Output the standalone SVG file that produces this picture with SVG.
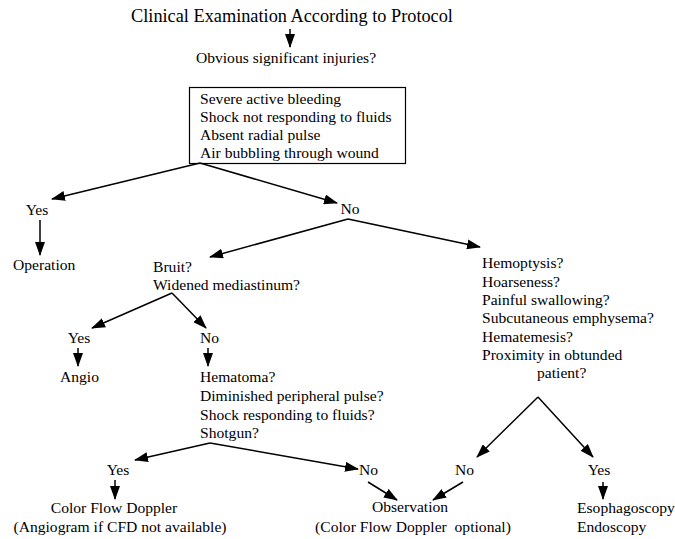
<svg xmlns="http://www.w3.org/2000/svg" width="675" height="539" viewBox="0 0 675 539">
<style>
text{font-family:"Liberation Serif","Times New Roman",serif;font-size:15.6px;fill:#000}
.title{font-size:18.3px}
.c{text-anchor:middle}
.ln{stroke:#000;stroke-width:1.5;fill:none;marker-end:url(#ah)}
.box{fill:#fff;stroke:#000;stroke-width:1.2}
</style>
<defs>
<marker id="ah" markerUnits="userSpaceOnUse" markerWidth="14" markerHeight="10" refX="13" refY="5" orient="auto">
<path d="M0,0 L14,5 L0,10 Z" fill="#000"/>
</marker>
</defs>
<rect width="675" height="539" fill="#fff"/>
<g id="title"><text class="title c" x="292" y="22">Clinical Examination According to Protocol</text></g>
<g id="obvious"><text class="c" x="286" y="63">Obvious significant injuries?</text></g>
<g id="criteria">
<rect class="box" x="189.5" y="87.5" width="216" height="76"/>
<text x="200" y="104">Severe active bleeding</text>
<text x="200" y="122">Shock not responding to fluids</text>
<text x="200" y="140">Absent radial pulse</text>
<text x="200" y="158">Air bubbling through wound</text>
</g>
<g id="yes1"><text class="c" x="37" y="215">Yes</text></g>
<g id="operation"><text x="13" y="270">Operation</text></g>
<g id="no1"><text class="c" x="350" y="214">No</text></g>
<g id="bruit"><text x="153" y="272">Bruit?</text><text x="153" y="290">Widened mediastinum?</text></g>
<g id="yes2"><text class="c" x="79" y="343">Yes</text></g>
<g id="angio"><text x="60" y="382">Angio</text></g>
<g id="no2"><text x="200" y="343">No</text></g>
<g id="hematoma">
<text x="200" y="382">Hematoma?</text>
<text x="200" y="401">Diminished peripheral pulse?</text>
<text x="200" y="420">Shock responding to fluids?</text>
<text x="200" y="438">Shotgun?</text>
</g>
<g id="yes3"><text class="c" x="118" y="475">Yes</text></g>
<g id="cfd"><text class="c" x="114" y="513">Color Flow Doppler</text><text class="c" x="120" y="532">(Angiogram if CFD not available)</text></g>
<g id="no3"><text x="359" y="475">No</text></g>
<g id="hemoptysis">
<text x="482" y="268">Hemoptysis?</text>
<text x="482" y="287">Hoarseness?</text>
<text x="482" y="305">Painful swallowing?</text>
<text x="482" y="323">Subcutaneous emphysema?</text>
<text x="482" y="342">Hematemesis?</text>
<text x="482" y="360">Proximity in obtunded</text>
<text x="537" y="378">patient?</text>
</g>
<g id="no4"><text x="455" y="475">No</text></g>
<g id="yes4"><text class="c" x="599" y="475">Yes</text></g>
<g id="observation"><text class="c" x="410" y="512">Observation</text><text class="c" x="413" y="532" xml:space="preserve" style="white-space:pre">(Color Flow Doppler  optional)</text></g>
<g id="endoscopy"><text x="577" y="513">Esophagoscopy</text><text x="577" y="532">Endoscopy</text></g>
<g id="connectors">
<line class="ln" x1="290" y1="29" x2="290" y2="47"/>
<line class="ln" x1="200" y1="163" x2="52" y2="199"/>
<line class="ln" x1="200" y1="163" x2="337" y2="203"/>
<line class="ln" x1="40" y1="220" x2="40" y2="255"/>
<line class="ln" x1="348" y1="219" x2="210" y2="257"/>
<line class="ln" x1="348" y1="219" x2="480" y2="247"/>
<line class="ln" x1="172" y1="293" x2="92" y2="328"/>
<line class="ln" x1="172" y1="293" x2="206" y2="328"/>
<line class="ln" x1="78" y1="348" x2="78" y2="366"/>
<line class="ln" x1="208" y1="348" x2="208" y2="366"/>
<line class="ln" x1="210" y1="443" x2="135" y2="460"/>
<line class="ln" x1="210" y1="443" x2="358" y2="469"/>
<line class="ln" x1="115" y1="480" x2="115" y2="499"/>
<line class="ln" x1="368" y1="482" x2="397" y2="500"/>
<line class="ln" x1="463" y1="482" x2="433" y2="500"/>
<line class="ln" x1="538" y1="397" x2="477" y2="457"/>
<line class="ln" x1="538" y1="397" x2="593" y2="457"/>
<line class="ln" x1="603" y1="482" x2="603" y2="499"/>
</g>
</svg>
